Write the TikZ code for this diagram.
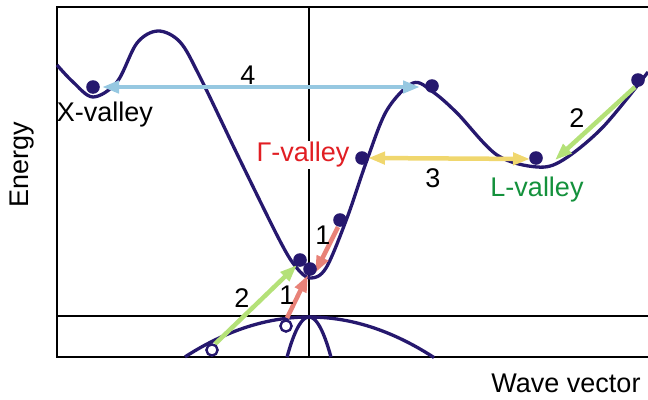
\documentclass[tikz,border=0pt]{standalone}
\usepackage{fontspec}
\setmainfont{Liberation Sans}
\usetikzlibrary{arrows.meta}
\definecolor{bandcol}{RGB}{38,24,110}
\definecolor{trblue}{RGB}{150,200,225}
\definecolor{trgreen}{RGB}{180,225,120}
\definecolor{tryellow}{RGB}{240,215,110}
\definecolor{trred}{RGB}{232,130,120}
\definecolor{gamred}{RGB}{225,30,35}
\definecolor{lgreen}{RGB}{20,145,60}
\begin{document}
\begin{tikzpicture}[x=1pt,y=-1pt,
  band/.style={bandcol, line width=3.3pt},
  trans/.style={line width=4.5pt, -{Triangle[length=17pt,width=12pt]}},
  lbl/.style={font=\fontsize{27}{32}\selectfont, inner sep=1pt}]
  \useasboundingbox (0,0) rectangle (648,399);
  % Frame and axes
  \draw[line width=1.8pt] (648,7) -- (57,7) -- (57,357) -- (648,357);
  \draw[line width=1.8pt] (57,316) -- (648,316);
  \draw[line width=1.8pt] (309,7) -- (309,357);
  \node[lbl, rotate=90] (energy) at (22,165) {Energy};
  \node[lbl] (wave) at (566,383) {Wave vector};
  % Conduction band
  \draw[band] plot[smooth, tension=0.55] coordinates
    {(57,65) (73,82) (93,97) (117,82) (137,43) (158,31) (180,42) (200,77)
     (240,160) (280,241) (296,267) (310,278) (326,268) (347,218) (367,160)
     (387,110) (413,83) (433,92) (457,113) (497,155) (537,167) (563,160)
     (603,127) (648,72)};
  % Valence bands
  \draw[band] plot[domain=185:434, samples=50] (\x, {317+0.0026*(\x-309)*(\x-309)});
  \draw[band] plot[domain=287:331, samples=30] (\x, {317+0.083*(\x-309)*(\x-309)});
  % Transitions
  \coordinate (a4l) at (102,87);  \coordinate (a4r) at (420,87);
  \coordinate (a3l) at (368,158); \coordinate (a3r) at (530,159);
  \coordinate (a2s) at (635,87);  \coordinate (a2e) at (555,160);
  \coordinate (b2s) at (215,344); \coordinate (b2e) at (297,265);
  \coordinate (b1s) at (287,318); \coordinate (b1e) at (308,275);
  \coordinate (c1s) at (338,227); \coordinate (c1e) at (315,273);
  \draw[trans, trblue, {Triangle[length=17pt,width=12pt]}-{Triangle[length=17pt,width=12pt]}] (a4l) -- (a4r);
  \draw[trans, tryellow, {Triangle[length=17pt,width=12pt]}-{Triangle[length=17pt,width=12pt]}] (a3l) -- (a3r);
  \draw[trans, trgreen] (a2s) -- (a2e);
  \draw[trans, trgreen] (b2s) -- (b2e);
  \draw[trans, trred] (b1s) -- (b1e);
  \draw[trans, trred] (c1s) -- (c1e);
  % Electrons and holes
  \foreach \pos/\name in {(93,87)/eX, (432,86)/eT, (362,158)/eG3, (340,220)/eG2,
     (300,260)/eG1, (310,269)/eG0, (536,158)/eL, (638,80)/eR}
    \fill[bandcol] \pos circle (6.8pt) coordinate (\name);
  \foreach \pos/\name in {(212,350)/h1, (286,326)/h2}
    \filldraw[bandcol, fill=white, line width=2.4pt] \pos circle (5.6pt) coordinate (\name);
  % Labels
  \node[lbl] (n4) at (248,75) {4};
  \node[lbl] (n3) at (433,178) {3};
  \node[lbl] (n2r) at (577,118) {2};
  \node[lbl] (n2l) at (242,298) {2};
  \node[lbl] (n1l) at (287,295) {1};
  \node[lbl] (n1r) at (323,235) {1};
  \node[lbl] (xval) at (105,115) {X-valley};
  \node[lbl, gamred, fill=white] (gval) at (303,155) {Γ-valley};
  \node[lbl, lgreen] (lval) at (537,190) {L-valley};
\end{tikzpicture}
\end{document}
